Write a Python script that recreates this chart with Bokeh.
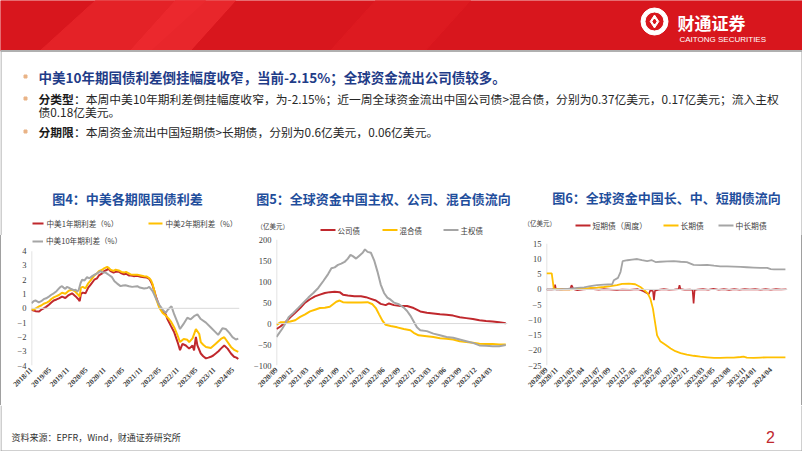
import math
from bokeh.plotting import figure
from bokeh.models import Range1d, FixedTicker, Span, Legend, LegendItem
from bokeh.layouts import column, row
from bokeh.embed import file_html
from bokeh.resources import INLINE
from bokeh.core.properties import value

CJK = "Noto Sans CJK SC"
SERIF = "Liberation Serif"
RED = "#C0282D"
YEL = "#FFC000"
GRY = "#A5A5A5"
BLUE = "#1F4E9C"
EDGE = "#A0A0A0"

# ---------------- Chart 4 data (months since 2018/11) ----------------
c1_xticks = [0, 6, 12, 18, 24, 30, 36, 42, 48, 54, 60, 66]
c1_xlabels = ["2018/11", "2019/05", "2019/11", "2020/05", "2020/11", "2021/05",
              "2021/11", "2022/05", "2022/11", "2023/05", "2023/11", "2024/05"]
c1_yticks = [-4, -3, -2, -1, 0, 1, 2, 3, 4]
c1_names = ["中美1年期利差（%）", "中美2年期利差（%）", "中美10年期利差（%）"]

c1_red_x = [0, 0.7, 1.3, 2.5, 3.2, 4, 4.8, 5.7, 6.5, 7.3, 8.2, 9, 10, 11.1, 12.2, 13.3, 14.4, 15.3,
            15.8, 16.2, 16.8, 17.7, 18.6, 19.4, 20.6, 21.5, 22.1, 23.2, 23.8, 24.8, 25.2, 25.9, 26.9,
            27.6, 28.6, 29.5, 30.3, 31, 31.9, 32.6, 33.5, 34.7, 35.8, 36.9, 37.8, 38.6, 39.2, 39.7,
            40.3, 40.8, 41.4, 41.9, 43, 44, 44.6, 45.7, 46.8, 47.9, 48.7, 49.5, 50.6, 51.7, 52.8,
            53.3, 53.9, 54.4, 55.5, 56.3, 57.2, 58, 58.8, 59.6, 60.4, 61.3, 62.1, 63.2, 64.3, 65.4,
            66.4, 67.2, 67.8]
c1_red = [-0.1, -0.15, -0.2, -0.22, -0.1, 0.0, 0.1, 0.25, 0.4, 0.55, 0.62, 0.7, 0.82, 0.72, 0.93,
          1.05, 0.85, 0.65, 0.5, 1.0, 1.1, 1.05, 1.45, 1.66, 2.0, 2.1, 2.3, 2.45, 2.6, 2.7, 2.78,
          2.6, 2.5, 2.55, 2.56, 2.45, 2.38, 2.42, 2.3, 2.3, 2.25, 2.28, 2.2, 2.18, 2.15, 2.07, 1.85,
          1.6, 1.2, 0.82, 0.45, 0.14, -0.2, -0.43, -0.77, -1.23, -1.68, -2.36, -2.93, -2.48, -2.6,
          -2.82, -2.6, -2.95, -2.0, -2.6, -3.16, -3.35, -3.5, -3.45, -3.39, -3.3, -3.16, -3.0,
          -2.82, -2.6, -2.82, -3.16, -3.39, -3.45, -3.55]

c1_yel_x = [0, 0.7, 1.3, 2.5, 3.2, 4, 5, 5.7, 6.5, 7.3, 8.2, 9, 10, 11.1, 12.2, 13.3, 14.4, 15.3,
            15.8, 16.2, 16.8, 17.7, 18.6, 19.4, 20.6, 21.5, 22.1, 23.2, 23.8, 24.8, 25.2, 25.9, 26.9,
            27.6, 28.6, 29.5, 30.3, 31, 31.9, 32.6, 33.5, 34.7, 35.8, 36.9, 37.8, 38.6, 39.2, 39.7,
            40.3, 40.8, 41.4, 41.9, 43, 44, 44.9, 45.8, 46.8, 47.9, 48.7, 49.9, 51.1, 51.7, 52.8,
            53.9, 55, 55.5, 56.3, 57.2, 58.8, 60.4, 62.1, 63.2, 64.3, 65.4, 66.6, 67.8]
c1_yel = [-0.05, -0.1, -0.02, 0.14, 0.2, 0.32, 0.4, 0.48, 0.65, 0.77, 0.85, 0.93, 1.09, 1.02, 1.23,
          1.3, 1.16, 0.95, 0.82, 1.45, 1.5, 1.4, 1.75, 1.95, 2.3, 2.45, 2.6, 2.7, 2.8, 2.9, 2.85,
          2.7, 2.62, 2.7, 2.65, 2.55, 2.5, 2.55, 2.45, 2.36, 2.35, 2.35, 2.3, 2.25, 2.22, 2.12, 1.95,
          1.7, 1.2, 0.7, 0.35, 0.05, -0.32, -0.5, -0.7, -0.95, -1.34, -1.9, -2.36, -2.14, -2.2,
          -2.36, -2.1, -1.45, -1.8, -2.36, -2.55, -2.7, -2.77, -2.48, -2.14, -2.02, -2.36, -2.7,
          -2.93, -3.05]

c1_gry_x = [0, 0.7, 1.3, 2.4, 3.2, 4, 4.8, 5.7, 6.5, 7.3, 8.2, 9, 9.5, 10, 10.5, 11.1, 11.6, 12.2,
            13, 13.9, 14.5, 15, 15.5, 16.1, 16.6, 17.4, 18.2, 19, 19.9, 20.7, 21.5, 22.6, 23.4, 24.3,
            25.3, 26.4, 27.2, 28.1, 29.2, 30, 30.8, 32, 33, 34.7, 35.5, 36.9, 38, 38.6, 39.7, 40.8,
            41.9, 43, 44, 44.7, 45.3, 45.9, 46.8, 47.9, 48.7, 49.8, 51.1, 52.2, 53.3, 54.4, 55.5,
            57.2, 58.8, 60.4, 61.2, 62.6, 63.7, 64.8, 65.9, 67, 67.8]
c1_gry = [0.36, 0.5, 0.55, 0.42, 0.5, 0.64, 0.7, 0.82, 0.95, 1.05, 1.2, 1.39, 1.5, 1.55, 1.45, 1.36,
          1.5, 1.45, 1.35, 1.27, 1.3, 1.16, 1.3, 1.77, 2.0, 1.95, 2.18, 2.1, 2.25, 2.35, 2.45, 2.6,
          2.5, 2.5, 2.35, 2.18, 1.9, 1.73, 1.55, 1.6, 1.62, 1.55, 1.5, 1.55, 1.45, 1.39, 1.42, 1.5,
          1.2, 0.7, 0.25, -0.09, -0.32, -0.1, 0.02, 0.14, -0.43, -1.0, -1.45, -1.11, -0.66, -0.77,
          -0.55, -0.43, -0.75, -1.0, -1.34, -1.68, -1.86, -1.4, -1.45, -1.7, -2.02, -2.18, -2.12]

# ---------------- Chart 5 data (months since 2020/09) ----------------
c2_xticks = [0, 3, 6, 9, 12, 15, 18, 21, 24, 27, 30, 33, 36, 39, 42]
c2_xlabels = ["2020/09", "2020/12", "2021/03", "2021/06", "2021/09", "2021/12", "2022/03",
              "2022/06", "2022/09", "2022/12", "2023/03", "2023/06", "2023/09", "2023/12", "2024/03"]
c2_yticks = [-100, -50, 0, 50, 100, 150, 200]
c2_names = ["公司债", "混合债", "主权债"]

c2_corp_x = [0, 0.77, 1.74, 2.7, 3.67, 4.64, 5.61, 6.57, 7.54, 8.51, 9.48, 10.45, 11.41, 12.38,
             13.03, 13.99, 15.28, 16.57, 17.54, 18.51, 19.48, 20.44, 21.41, 22.06, 23.03, 24.32,
             25.61, 26.9, 28.19, 29.48, 30.77, 32.06, 33.35, 34.64, 35.93, 37.22, 38.51, 39.8,
             41.09, 42.38, 43.67, 44.96]
c2_corp = [-13, -7, 3, 15, 26, 37, 50, 58, 65, 69, 73, 75, 76, 75, 69, 67, 65, 65, 63, 59, 55, 47,
           44, 48, 44, 42, 42, 37, 29, 26, 24, 22, 21, 19, 15, 13, 11, 8, 6, 5, 3, 1]

c2_mix_x = [0, 0.77, 1.74, 2.7, 3.67, 4.64, 5.61, 6.57, 7.54, 8.51, 9.48, 10.45, 11.09, 11.73,
            12.38, 13.03, 13.99, 15.28, 16.57, 17.86, 18.83, 19.48, 20.12, 20.77, 21.41, 22.38,
            23.67, 24.96, 26.25, 26.9, 27.86, 29.48, 30.77, 32.06, 33.35, 34.64, 35.93, 37.22,
            38.51, 39.8, 41.09, 42.38, 43.67, 44.96]
c2_mix = [-3, 3, 3, 5, 8, 16, 22, 29, 33, 37, 38, 40, 46, 52, 55, 51, 50, 50, 50, 51, 46, 37, 22, 7,
          -3, -6, -9, -13, -16, -22, -28, -30, -32, -35, -36, -38, -42, -44, -46, -48, -49, -49,
          -50, -50]

c2_sov_x = [0, 0.45, 1.09, 1.74, 2.38, 3.35, 4.32, 5.28, 6.25, 7.22, 8.19, 9.15, 10.12, 10.77,
            11.41, 12.06, 12.7, 13.35, 13.99, 14.51, 14.96, 15.61, 16.25, 16.9, 17.35, 17.86,
            18.51, 19.15, 19.8, 20.44, 21.09, 21.74, 22.38, 23.03, 24.0, 24.96, 25.61, 26.25, 26.9,
            27.54, 28.19, 29.48, 30.77, 32.06, 33.35, 34.64, 35.93, 37.22, 38.51, 39.8, 41.09,
            42.38, 43.67, 44.96]
c2_sov = [-32, -24, -13, 0, 15, 26, 38, 50, 62, 73, 85, 101, 118, 132, 134, 140, 143, 147, 155,
          164, 161, 155, 162, 169, 177, 171, 169, 151, 124, 93, 73, 62, 57, 50, 46, 38, 30, 19, 5,
          -9, -16, -18, -24, -28, -32, -34, -38, -42, -46, -52, -53, -54, -54, -51]

# ---------------- Chart 6 data (months since 2020/09) ----------------
c3_xticks = [0, 2, 5, 7, 10, 12, 15, 17, 20, 22, 25, 27, 30, 32, 35, 38, 40, 43]
c3_xlabels = ["2020/09", "2020/11", "2021/02", "2021/04", "2021/07", "2021/09", "2021/12",
              "2022/02", "2022/05", "2022/07", "2022/10", "2022/12", "2023/03", "2023/05",
              "2023/08", "2023/11", "2024/01", "2024/04"]
c3_yticks = [-25, -20, -15, -10, -5, 0, 5, 10, 15]
c3_names = ["短期债（周度）", "长期债", "中长期债"]

c3_short_x = [0, 1.0, 1.5, 1.65, 1.8, 3, 4.5, 4.8, 5.2, 5.9, 7, 8.5, 10, 11, 12, 13.5, 14.5, 16,
              17.5, 18, 18.6, 19.3, 19.6, 19.9, 20.4, 20.6, 20.8, 21.5, 22.5, 23.5, 24.5, 25.3,
              25.5, 25.7, 26.5, 27.5, 28.0, 28.2, 28.4, 29, 30, 31, 32, 33, 34, 35, 36, 37, 38,
              39, 40, 41, 42, 43, 44, 45, 46]
c3_short = [0, 0, 0.1, 1.6, 0, 0.1, 0, 1.4, 0.1, -0.25, 0, 0.15, -0.1, 0.1, 0, -0.2, 0, -0.1, 0.1,
            -0.2, -0.6, -1.3, -1.6, -0.3, -0.5, -3.5, -0.4, -0.1, 0.1, -0.1, 0, 0.1, 1.4, 0.1, -0.1,
            0, -0.2, -4.6, -0.2, 0, 0.1, -0.1, 0.2, -0.1, 0.1, -0.15, 0.1, -0.1, 0.1, 0, 0.1, -0.1,
            0.1, -0.1, 0.1, 0, 0.05]

c3_long_x = [0, 1.0, 1.4, 2.7, 4.6, 5.9, 7.2, 8.4, 9.7, 11, 12.3, 13.5, 14.5, 15.8, 17.0, 18.0,
             18.8, 19.4, 19.9, 20.4, 20.9, 21.2, 21.8, 22.8, 23.8, 24.7, 25.7, 26.9, 28.2, 29.5,
             30.8, 32.1, 33.3, 34.6, 35.9, 37.2, 37.8, 38.4, 39.7, 41, 42.3, 43.6, 44.8, 45.8]
c3_long = [5.3, 5.3, 0.3, 0, 0.05, 0.2, 0.2, 0.5, 0.6, 0.8, 1.1, 1.4, 1.8, 1.9, 1.7, 0.8, -0.3,
           -1.3, -3.0, -6.3, -11.8, -15.1, -17.0, -18.2, -19.4, -20.3, -20.9, -21.4, -21.8, -22.1,
           -22.3, -22.5, -22.5, -22.4, -22.4, -22.2, -22.1, -22.4, -22.5, -22.4, -22.3, -22.3,
           -22.3, -22.3]

c3_mid_x = [0, 2.7, 4.6, 5.9, 7.2, 8.4, 9.7, 11, 12.6, 12.9, 13.7, 14.2, 14.6, 15.5, 16.4, 17.4,
            18.3, 19.3, 20.2, 20.9, 21.8, 23.1, 24.4, 25.7, 26.9, 28.2, 29.5, 30.8, 32.1, 33.3,
            34.6, 35.9, 37.2, 38.4, 39.7, 41, 42.3, 43.0, 43.6, 44.8, 45.8]
c3_mid = [0, 0, 0.3, 0.5, 0.7, 1.1, 1.4, 1.6, 1.7, 3.0, 3.8, 5.8, 9.3, 9.6, 9.8, 10.0, 9.6, 9.3,
          9.6, 9.0, 9.1, 9.2, 9.3, 9.1, 9.0, 8.1, 8.0, 8.1, 7.8, 7.6, 7.6, 7.5, 7.4, 7.3, 7.2, 7.1,
          7.1, 6.7, 6.6, 6.6, 6.6]

UNIT = "（亿美元）"


def make_chart(w, h, xr, yr, lb, rb, bb, yticks, xticks, xlabels):
    p = figure(width=w, height=h, x_range=Range1d(*xr), y_range=Range1d(*yr),
               output_backend="svg", toolbar_location=None,
               min_border_left=lb, min_border_right=rb, min_border_top=0, min_border_bottom=bb)
    p.outline_line_color = None
    p.grid.visible = False
    ya = p.yaxis[0]
    ya.ticker = FixedTicker(ticks=yticks)
    ya.axis_line_color = None
    ya.major_tick_line_color = None
    ya.minor_tick_line_color = None
    ya.major_tick_out = 0
    ya.minor_tick_out = 0
    ya.major_label_standoff = 5
    ya.major_label_text_font = SERIF
    ya.major_label_text_font_size = "8.5px"
    ya.major_label_text_color = "#404040"
    xa = p.xaxis[0]
    xa.ticker = FixedTicker(ticks=xticks)
    xa.major_label_overrides = {t: l for t, l in zip(xticks, xlabels)}
    xa.major_label_orientation = math.pi / 4
    xa.axis_line_color = None
    xa.major_tick_line_color = None
    xa.minor_tick_line_color = None
    xa.major_tick_out = 0
    xa.minor_tick_out = 0
    xa.major_label_standoff = 3
    xa.major_label_text_font = SERIF
    xa.major_label_text_font_size = "7.5px"
    xa.major_label_text_font_style = "bold"
    xa.major_label_text_color = "#404040"
    p.segment(x0=[xr[0]], y0=[min(yticks)], x1=[xr[0]], y1=[max(yticks)],
              line_color="#D9D9D9", line_width=1.5)
    p.add_layout(Span(location=0, dimension="width", line_color="#D9D9D9", line_width=1))
    return p


TOP = 235  # boundary between slide header and the chart row

# ---------------- Chart 4 ----------------
c1 = make_chart(250, 170, (0, 68.2), (-4, 5.094), 31, 11, 37, c1_yticks, c1_xticks, c1_xlabels)
r1 = c1.line(c1_red_x, c1_red, line_color=RED, line_width=2)
r2 = c1.line(c1_yel_x, c1_yel, line_color=YEL, line_width=2)
r3 = c1.line(c1_gry_x, c1_gry, line_color=GRY, line_width=2)
c1.add_layout(Legend(items=[LegendItem(label=c1_names[2], renderers=[r3])], location=(1, 119),
                     orientation="horizontal", padding=0, margin=0, glyph_width=11,
                     glyph_height=10, label_height=10, label_standoff=3, label_text_font=CJK,
                     label_text_font_size="7.6px", label_text_color="#404040",
                     border_line_color=None, background_fill_alpha=0))
c1.border_fill_alpha = 0
c1.styles = {"box-shadow": "inset 1px 0 0 " + EDGE}

# ---------------- Chart 5 ----------------
c2 = make_chart(270, 170, (0, 45.3), (-100, 210.1), 23, 13, 38, c2_yticks, c2_xticks, c2_xlabels)
c2.line(c2_corp_x, c2_corp, line_color=RED, line_width=2)
c2.line(c2_mix_x, c2_mix, line_color=YEL, line_width=2)
c2.line(c2_sov_x, c2_sov, line_color=GRY, line_width=2)

# ---------------- Chart 6 ----------------
c3 = make_chart(282, 170, (0, 46.2), (-25, 17.73), 26, 15, 40, c3_yticks, c3_xticks, c3_xlabels)
c3.line(c3_short_x, c3_short, line_color=RED, line_width=1.6)
c3.line(c3_long_x, c3_long, line_color=YEL, line_width=1.8)
c3.line(c3_mid_x, c3_mid, line_color=GRY, line_width=1.8)
c3.border_fill_alpha = 0
c3.styles = {"box-shadow": "inset -1px 0 0 " + EDGE}

# ---------------- Header (slide top, chart titles, legends) ----------------
hdr = figure(width=802, height=TOP, x_range=Range1d(0, 802), y_range=Range1d(TOP, 0),
             output_backend="svg", toolbar_location=None, min_border=0,
             x_axis_location=None, y_axis_location=None)
hdr.outline_line_color = None
hdr.grid.visible = False
hdr.quad(left=0, right=802, top=0, bottom=50, color="#D8161D")
hdr.patch([40, 95, 205, 150], [50, 0, 0, 50], color="#E52329", alpha=0.9)
hdr.patch([130, 175, 235, 190], [50, 0, 0, 50], color="#EC2A2F", alpha=0.8)
hdr.patch([330, 375, 470, 425], [50, 0, 0, 50], color="#DE1C22", alpha=0.8)
hdr.quad(left=0, right=802, top=50, bottom=51, color="#B0B0B0")
hdr.segment(x0=[0.5, 801.5], y0=[51, 51], x1=[0.5, 801.5], y1=[TOP, TOP], line_color=EDGE, line_width=1)
# logo
hdr.annulus(x=654, y=21, inner_radius=9.5, outer_radius=13.5, color="white")
hdr.scatter(x=654, y=21, marker="diamond", size=13, color="white")
hdr.scatter(x=654, y=21, marker="diamond", size=5, color="#D8161D")
hdr.text(x=[677], y=[22], text=["财通证券"], text_font=value(CJK), text_font_style="bold",
         text_font_size=value("17px"), text_color="white", text_baseline="middle")
hdr.text(x=[679], y=[38.5], text=["CAITONG SECURITIES"], text_font=value("Liberation Sans"),
         text_font_size=value("8px"), text_color="white", text_baseline="middle")
# bullets
hdr.scatter(x=[25, 25, 25], y=[76, 98, 131], marker="square", size=3, color="#E9B386")
hdr.text(x=[38], y=[76], text=["中美10年期国债利差倒挂幅度收窄，当前-2.15%；全球资金流出公司债较多。"],
         text_font=value(CJK), text_font_style="bold", text_font_size=value("13.5px"),
         text_color="#1F3C88", text_baseline="middle")
hdr.text(x=[38, 38], y=[98, 131], text=["分类型", "分期限"], text_font=value(CJK),
         text_font_style="bold", text_font_size=value("11.8px"), text_color="#1A1A1A",
         text_baseline="middle")
hdr.text(x=[73.4, 38, 73.4], y=[98, 111, 131],
         text=["：本周中美10年期利差倒挂幅度收窄，为-2.15%；近一周全球资金流出中国公司债>混合债，分别为0.37亿美元，0.17亿美元；流入主权",
               "债0.18亿美元。",
               "：本周资金流出中国短期债>长期债，分别为0.6亿美元，0.06亿美元。"],
         text_font=value(CJK), text_font_size=value("11.8px"), text_color="#262626",
         text_baseline="middle")
# chart titles
hdr.text(x=[127, 383, 666], y=[198, 198, 197],
         text=["图4：中美各期限国债利差", "图5：全球资金中国主权、公司、混合债流向", "图6：全球资金中国长、中、短期债流向"],
         text_font=value(CJK), text_font_style="bold", text_font_size=value("13px"),
         text_color=BLUE, text_baseline="middle", text_align="center")
# legends of the three charts (sample line + name)
leg_x0 = [32, 148, 320, 382, 443, 575, 663, 718]
leg_x1 = [43, 162, 335, 397, 458, 590, 678, 733]
leg_y = [223, 223, 229.5, 229.5, 229.5, 225, 225, 225]
leg_col = [RED, YEL, RED, YEL, GRY, RED, YEL, GRY]
leg_txt = c1_names[:2] + c2_names + c3_names
hdr.segment(x0=leg_x0, y0=leg_y, x1=leg_x1, y1=leg_y, line_color=leg_col, line_width=2)
hdr.text(x=[x + 3 for x in leg_x1[:2]], y=leg_y[:2], text=leg_txt[:2], text_font=value(CJK),
         text_font_size=value("7.6px"), text_color="#404040", text_baseline="middle")
hdr.text(x=[x + 2 for x in leg_x1[2:5]], y=leg_y[2:5], text=leg_txt[2:5], text_font=value(CJK),
         text_font_size=value("7.5px"), text_color="#404040", text_baseline="middle")
hdr.text(x=[x + 2 for x in leg_x1[5:]], y=leg_y[5:], text=leg_txt[5:], text_font=value(CJK),
         text_font_size=value("7.8px"), text_color="#404040", text_baseline="middle")
hdr.text(x=[256, 523], y=[225, 222.7], text=[UNIT, UNIT], text_font=value(CJK),
         text_font_size=value("6.5px"), text_color="#404040", text_baseline="middle")

# ---------------- Footer ----------------
ftr = figure(width=802, height=46, x_range=Range1d(0, 802), y_range=Range1d(451, 405),
             output_backend="svg", toolbar_location=None, min_border=0,
             x_axis_location=None, y_axis_location=None)
ftr.outline_line_color = None
ftr.grid.visible = False
ftr.segment(x0=[0.5, 801.5, 0], y0=[405, 405, 450.5], x1=[0.5, 801.5, 802], y1=[451, 451, 450.5],
            line_color=EDGE, line_width=1)
ftr.text(x=[11], y=[437], text=["资料来源：EPFR，Wind，财通证券研究所"], text_font=value(CJK),
         text_font_size=value("9px"), text_color="#333333", text_baseline="middle")
ftr.text(x=[770], y=[436], text=["2"], text_font=value("Liberation Sans"),
         text_font_size=value("16px"), text_color=RED, text_baseline="middle", text_align="center")

layout = column(hdr, row(c1, c2, c3), ftr)
open("out.html", "w").write(file_html(layout, INLINE))
